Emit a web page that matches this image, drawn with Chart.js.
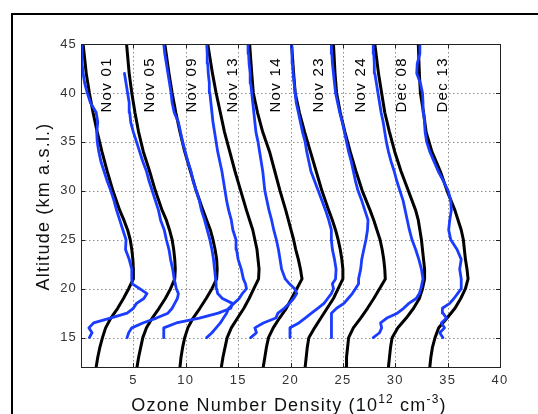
<!DOCTYPE html>
<html>
<head>
<meta charset="utf-8">
<script src="https://cdn.jsdelivr.net/npm/chart.js@4.4.1/dist/chart.umd.min.js"></script>
<style>
html, body { margin: 0; padding: 0; background: #fff; overflow: hidden; }
#wrap { position: relative; width: 538px; height: 414px; }
#frame { position: absolute; left: 11px; top: 13px; width: 600px; height: 500px; border: 2px solid #000; box-sizing: border-box; }
canvas { position: absolute; left: 0; top: 0; }
</style>
</head>
<body>
<div id="wrap"><div id="frame"></div><canvas id="ozone" width="538" height="414"></canvas></div>
<script>
// sounding dates and where their labels sit (x in density units)
var dates = ["Nov 01", "Nov 05", "Nov 09", "Nov 13", "Nov 14", "Nov 23", "Nov 24", "Dec 08", "Dec 13"];
var labelX = [2.3, 6.4, 10.5, 14.4, 18.5, 22.6, 26.6, 30.5, 34.45];
var labelAlt = 38;

var xTicks = [5, 10, 15, 20, 25, 30, 35, 40];
var yTicks = [15, 20, 25, 30, 35, 40, 45];

// model profiles (black), offset curves
var altModel = [12, 13, 14, 15, 16, 17, 18, 19, 20, 21, 22, 23, 24, 25, 26, 27, 28, 30, 32, 34, 36, 38, 40, 42, 45];
var nov01Model = [1.45, 1.6, 1.8, 2.05, 2.35, 2.85, 3.5, 4.05, 4.55, 5.0, 5.0, 4.95, 4.85, 4.7, 4.45, 4.1, 3.7, 3.05, 2.5, 2.0, 1.55, 1.15, 0.8, 0.5, 0.2];
var nov05Model = [5.35, 5.5, 5.7, 5.9, 6.25, 6.8, 7.45, 8.05, 8.55, 8.95, 9.0, 8.95, 8.85, 8.7, 8.45, 8.15, 7.75, 7.1, 6.55, 5.95, 5.5, 5.15, 4.85, 4.6, 4.35];
var nov09Model = [9.45, 9.55, 9.7, 9.9, 10.2, 10.7, 11.35, 11.95, 12.5, 12.95, 13.0, 12.95, 12.8, 12.6, 12.35, 12.0, 11.65, 11.0, 10.45, 9.9, 9.45, 9.05, 8.7, 8.4, 8.0];
var nov13Model = [13.4, 13.55, 13.75, 13.95, 14.35, 14.95, 15.55, 16.05, 16.5, 16.95, 17.0, 16.9, 16.8, 16.6, 16.4, 16.1, 15.8, 15.25, 14.7, 14.2, 13.7, 13.3, 12.9, 12.55, 12.1];
var nov14Model = [17.4, 17.55, 17.7, 17.9, 18.35, 18.95, 19.6, 20.1, 20.6, 21.1, 20.95, 20.75, 20.5, 20.3, 20.05, 19.8, 19.55, 19.0, 18.5, 18.0, 17.35, 16.85, 16.45, 16.3, 16.1];
var nov23Model = [21.4, 21.5, 21.6, 21.75, 22.3, 22.9, 23.5, 24.1, 24.55, 25.0, 25.0, 24.9, 24.75, 24.55, 24.3, 24.0, 23.65, 23.0, 22.45, 21.9, 21.35, 20.85, 20.45, 20.3, 20.1];
var nov24Model = [25.3, 25.35, 25.45, 25.55, 26.0, 26.7, 27.35, 27.95, 28.5, 29.05, 29.0, 28.9, 28.75, 28.55, 28.25, 27.95, 27.6, 26.85, 26.25, 25.7, 25.2, 24.75, 24.4, 24.25, 24.1];
var dec08Model = [29.35, 29.45, 29.55, 29.7, 30.25, 31.05, 31.75, 32.3, 32.6, 32.8, 32.8, 32.7, 32.6, 32.5, 32.35, 32.2, 31.95, 31.25, 30.55, 29.95, 29.45, 29.0, 28.7, 28.4, 28.05];
var dec13Model = [33.3, 33.4, 33.55, 33.8, 34.15, 34.95, 35.7, 36.25, 36.7, 36.95, 36.85, 36.7, 36.6, 36.5, 36.3, 36.0, 35.7, 34.95, 34.3, 33.5, 32.95, 32.7, 32.4, 32.3, 32.2];

// ozonesonde profiles (blue)
var altObs = [15, 15.5, 16, 16.5, 17, 17.5, 18, 18.5, 19, 19.5, 20, 20.5, 21, 22, 23, 24, 25, 26, 27, 28, 29, 30, 31, 32, 33, 34, 35, 36, 37, 38, 39, 40, 41, 42, 43, 44, 45];
var nov01Obs = [0.8, 1.05, 0.75, 1.2, 2.8, 4.4, 5.0, 5.3, 6.0, 6.3, 5.6, 4.9, 4.85, 4.85, 4.6, 4.25, 4.3, 4.0, 3.7, 3.4, 3.15, 2.85, 2.5, 2.2, 1.9, 1.7, 1.55, 1.5, 1.6, 1.45, 0.9, 0.6, 0.35, 0.2, 0.1, 0.1, 0.1];
var nov05Obs = [4.4, 4.55, 4.85, 5.9, 7.2, 8.3, 8.7, 8.95, 9.2, 9.3, 9.1, 9.0, 8.9, 8.75, 8.55, 8.4, 8.15, 7.95, 7.6, 7.4, 7.1, 6.8, 6.5, 6.25, 5.9, 5.6, 5.3, 5.0, 4.75, 4.65, 4.6, 4.45, 4.3, 4.15, null, null, null];
var nov09Obs = [7.9, 7.9, 7.9, 9.1, 11.3, 13.1, 14.3, 14.45, 13.5, 13.05, 12.95, 12.9, 12.85, 12.75, 12.65, 12.5, 12.3, 12.05, 11.8, 11.5, 11.3, 11.0, 10.7, 10.5, 10.2, 9.95, 9.7, 9.5, 9.3, 8.9, 8.7, 8.6, 8.45, 8.3, 8.15, 8.0, 7.9];
var nov13Obs = [12.0, 12.5, 12.9, 13.3, 13.6, 13.9, 14.1, 14.6, 15.1, 15.4, 15.8, 15.7, 15.5, 15.3, 15.0, 14.85, 14.8, 14.5, 14.35, 14.1, 13.9, 13.75, 13.6, 13.45, 13.25, 13.05, 12.9, 12.75, 12.6, 12.5, 12.4, 12.3, 12.25, 12.15, 12.1, 12.05, 12.0];
var nov14Obs = [16.2, 16.75, 16.6, 17.4, 18.6, 18.8, 19.4, 19.9, 20.3, 20.6, 20.4, 19.9, 19.5, 19.15, 19.0, 18.85, 18.65, 18.4, 18.2, 17.95, 17.75, 17.55, 17.45, 17.35, 17.2, 17.05, 16.9, 16.7, 16.6, 16.5, 16.4, 16.3, 16.2, 16.15, 16.05, 16.0, 15.95];
var nov23Obs = [19.95, 19.95, 19.95, 20.8, 21.4, 22.0, 22.6, 23.2, 23.55, 23.9, 24.1, 24.0, 24.3, 24.35, 24.2, 24.0, 23.9, 23.9, 23.65, 23.35, 23.0, 22.65, 22.3, 21.95, 21.75, 21.55, 21.4, 21.15, 20.95, 20.75, 20.55, 20.45, 20.35, 20.25, 20.2, 20.15, 20.1];
var nov24Obs = [23.9, 23.9, 23.9, 23.9, 23.9, 23.95, 24.4, 25.1, 25.5, 25.9, 26.2, 26.5, 26.5, 26.7, 26.8, 27.0, 27.2, 27.35, 27.4, 27.1, 26.8, 26.45, 26.2, 26.0, 25.8, 25.55, 25.35, 25.15, 24.95, 24.7, 24.5, 24.3, 24.2, 24.1, 24.0, 23.95, 23.9];
var dec08Obs = [27.9, 28.5, 28.7, 28.6, 29.2, 30.2, 30.8, 31.3, 32.0, 32.3, 32.45, 32.55, 32.65, 32.5, 32.25, 31.95, 31.6, 31.35, 31.15, 30.95, 30.75, 30.45, 30.15, 29.9, 29.6, 29.35, 29.15, 29.0, 28.85, 28.65, 28.5, 28.35, 28.2, 28.05, 28.0, 27.95, 27.9];
var dec13Obs = [34.55, 34.25, 34.7, 34.4, 34.9, 34.55, 34.5, 35.2, 35.6, 35.95, 36.3, 36.3, 36.3, 36.15, 36.3, 35.9, 35.3, 35.1, 35.2, 35.35, 35.3, 35.05, 34.6, 34.1, 33.7, 33.3, 33.0, 32.85, 32.8, 32.7, 32.65, 32.6, 32.4, 32.05, 32.1, 32.35, 32.35];

var models = [nov01Model, nov05Model, nov09Model, nov13Model, nov14Model, nov23Model, nov24Model, dec08Model, dec13Model];
var sondes = [nov01Obs, nov05Obs, nov09Obs, nov13Obs, nov14Obs, nov23Obs, nov24Obs, dec08Obs, dec13Obs];

var FONT = "'Liberation Sans', Arial, Helvetica, sans-serif";

function toPoints(alt, vals) {
    var pts = [];
    for (var i = 0; i < alt.length; i++) {
        if (vals[i] !== null) pts.push({ x: vals[i], y: alt[i] });
    }
    return pts;
}

var datasets = [];
for (let i = 0; i < dates.length; i++) {
    datasets.push({
        label: dates[i] + " model",
        data: toPoints(altModel, models[i]),
        borderColor: "#000",
        borderWidth: 3,
        order: 2
    });
    datasets.push({
        label: dates[i] + " sonde",
        data: toPoints(altObs, sondes[i]),
        borderColor: "#1a3cff",
        borderWidth: 2.8,
        order: 1
    });
}

function drawPieces(ctx, pieces, x, y) {
    var total = 0;
    pieces.forEach(function(p) {
        ctx.font = p.size + "px " + FONT;
        p.w = ctx.measureText(p.text).width;
        total += p.w;
    });
    var cx = x - total / 2;
    pieces.forEach(function(p) {
        ctx.font = p.size + "px " + FONT;
        ctx.fillText(p.text, cx, y + p.dy);
        cx += p.w;
    });
}

var decor = {
    id: "decor",
    beforeDraw: function(chart) {
        chart.ctx.letterSpacing = "1.2px";
    },
    beforeDatasetsDraw: function(chart) {
        var ctx = chart.ctx, a = chart.chartArea;
        var xs = chart.scales.x, ys = chart.scales.y;
        ctx.save();
        ctx.strokeStyle = "#8c8c8c";
        ctx.lineWidth = 1;
        ctx.setLineDash([1.5, 2.5]);
        xTicks.forEach(function(v) {
            var px = Math.round(xs.getPixelForValue(v)) + 0.5;
            if (px > a.right - 2) return;
            ctx.beginPath(); ctx.moveTo(px, a.top); ctx.lineTo(px, a.bottom); ctx.stroke();
        });
        yTicks.forEach(function(v) {
            var py = Math.round(ys.getPixelForValue(v)) + 0.5;
            if (py < a.top + 2) return;
            ctx.beginPath(); ctx.moveTo(a.left, py); ctx.lineTo(a.right, py); ctx.stroke();
        });
        ctx.restore();
    },
    afterDatasetsDraw: function(chart) {
        var ctx = chart.ctx, a = chart.chartArea;
        var xs = chart.scales.x, ys = chart.scales.y;
        ctx.save();
        ctx.strokeStyle = "#222";
        ctx.lineWidth = 1;
        ctx.strokeRect(Math.round(a.left) + 0.5, Math.round(a.top) + 0.5, Math.round(a.right - a.left), Math.round(a.bottom - a.top));
        var tl = 4;
        xTicks.forEach(function(v) {
            var px = Math.round(xs.getPixelForValue(v)) + 0.5;
            ctx.beginPath(); ctx.moveTo(px, a.bottom); ctx.lineTo(px, a.bottom - tl);
            ctx.moveTo(px, a.top); ctx.lineTo(px, a.top + tl); ctx.stroke();
        });
        yTicks.forEach(function(v) {
            var py = Math.round(ys.getPixelForValue(v)) + 0.5;
            ctx.beginPath(); ctx.moveTo(a.left, py); ctx.lineTo(a.left + tl, py);
            ctx.moveTo(a.right, py); ctx.lineTo(a.right - tl, py); ctx.stroke();
        });

        // date labels, rotated, reading upward
        ctx.fillStyle = "#000";
        ctx.letterSpacing = "1.3px";
        ctx.font = "15px " + FONT;
        ctx.textAlign = "left";
        ctx.textBaseline = "alphabetic";
        for (let i = 0; i < dates.length; i++) {
            ctx.save();
            ctx.translate(xs.getPixelForValue(labelX[i]) + 5.5, ys.getPixelForValue(labelAlt));
            ctx.rotate(-Math.PI / 2);
            ctx.fillText(dates[i], 0, 0);
            ctx.restore();
        }
        ctx.restore();
    },
    afterDraw: function(chart) {
        var ctx = chart.ctx, a = chart.chartArea;
        ctx.save();
        ctx.fillStyle = "#111";
        ctx.letterSpacing = "1.2px";
        ctx.textAlign = "left";
        ctx.textBaseline = "alphabetic";
        drawPieces(ctx, [
            { text: "Ozone Number Density (10", size: 18, dy: 0 },
            { text: "12", size: 12, dy: -8 },
            { text: " cm", size: 18, dy: 0 },
            { text: "-3", size: 12, dy: -8 },
            { text: ")", size: 18, dy: 0 }
        ], 289, 411);
        ctx.save();
        ctx.translate(48.5, (a.top + a.bottom) / 2 + 1);
        ctx.rotate(-Math.PI / 2);
        ctx.textAlign = "center";
        ctx.font = "18px " + FONT;
        ctx.fillText("Altitude (km a.s.l.)", 0, 0);
        ctx.restore();
        ctx.restore();
    }
};

var ozoneChart = new Chart(document.getElementById("ozone").getContext("2d"), {
    type: "scatter",
    data: { datasets: datasets },
    options: {
        responsive: false,
        animation: false,
        showLine: true,
        elements: {
            point: { radius: 0, hoverRadius: 0 },
            line: { tension: 0, fill: false, borderJoinStyle: "round", borderCapStyle: "round" }
        },
        layout: { padding: { left: 0, top: 44, right: 38, bottom: 0 } },
        plugins: { legend: { display: false }, tooltip: { enabled: false } },
        scales: {
            x: {
                type: "linear",
                min: 0,
                max: 40,
                grid: { display: false, drawTicks: false },
                border: { display: false },
                afterBuildTicks: function(s) { s.ticks = xTicks.map(function(v) { return { value: v }; }); },
                afterFit: function(s) { s.height = 47; },
                ticks: { padding: 6, color: "#333", maxRotation: 0, autoSkip: false, font: { family: FONT, size: 13 } }
            },
            y: {
                type: "linear",
                min: 12,
                max: 45,
                grid: { display: false, drawTicks: false },
                border: { display: false },
                afterBuildTicks: function(s) { s.ticks = yTicks.map(function(v) { return { value: v }; }); },
                afterFit: function(s) { s.width = 81; },
                ticks: { padding: 4, color: "#333", autoSkip: false, font: { family: FONT, size: 13 } }
            }
        }
    },
    plugins: [decor]
});
</script>
</body>
</html>
